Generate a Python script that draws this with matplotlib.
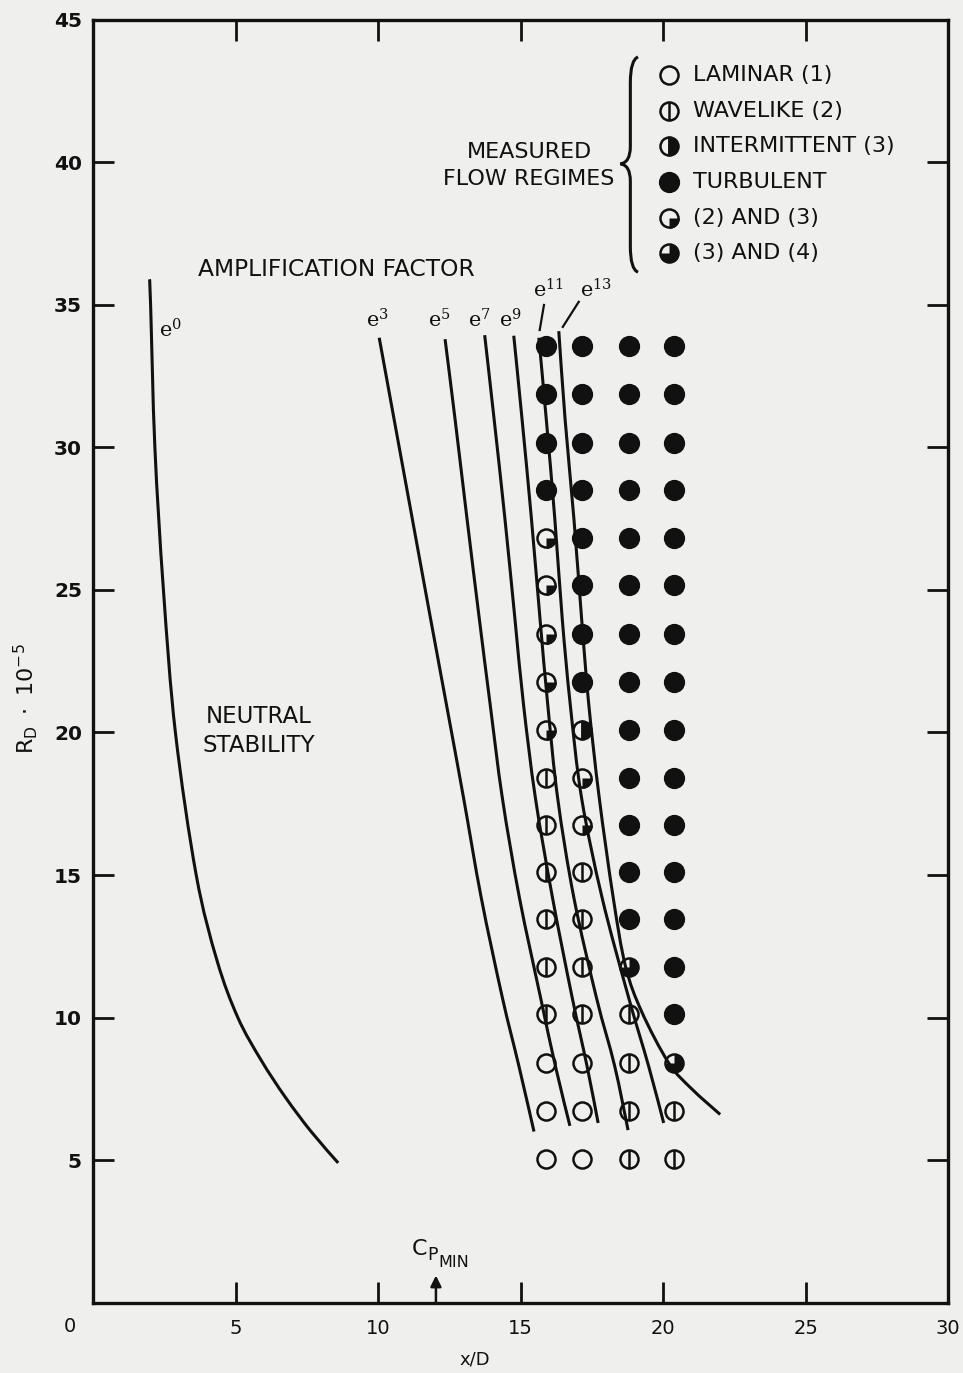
import matplotlib
matplotlib.use("Agg")
import matplotlib.pyplot as plt
from matplotlib.path import Path
from matplotlib.patches import PathPatch

# ---------------------------------------------------------------------------
# Amplification-factor curves (x/D, R_D * 1e-5)
# ---------------------------------------------------------------------------
e0_x = [1.98, 2.02, 2.17, 2.47, 2.89, 3.62, 4.35, 5.08, 5.90, 6.75, 7.65, 8.60]
e0_y = [35.9, 35.0, 30.0, 25.0, 20.0, 15.0, 12.0, 10.0, 8.5, 7.2, 6.0, 4.9]

e3_x = [10.04, 10.56, 11.20, 11.84, 12.45, 13.00, 13.62, 14.36, 14.94, 15.47]
e3_y = [33.85, 31.0, 27.5, 24.0, 20.7, 17.7, 14.2, 10.7, 8.3, 6.0]

e5_x = [12.35, 12.70, 13.12, 13.55, 13.93, 14.36, 14.96, 15.70, 16.22, 16.73]
e5_y = [33.8, 31.0, 27.5, 24.0, 21.0, 17.7, 14.2, 10.7, 8.3, 6.2]

e7_x = [13.74, 14.07, 14.45, 14.80, 15.10, 15.52, 16.12, 16.81, 17.33, 17.72]
e7_y = [33.94, 31.0, 27.5, 24.0, 21.0, 17.7, 14.2, 10.7, 8.3, 6.3]

e9_x = [14.76, 15.05, 15.38, 15.68, 15.95, 16.30, 16.87, 17.66, 18.30, 18.77]
e9_y = [33.92, 31.0, 27.5, 24.0, 21.0, 17.7, 14.2, 10.7, 8.3, 6.05]

e11_x = [15.64, 15.90, 16.20, 16.46, 16.74, 17.14, 17.86, 18.79, 19.49, 20.02]
e11_y = [33.85, 31.0, 27.5, 24.0, 21.0, 17.7, 14.2, 10.7, 8.3, 6.3]

e13_x = [16.34, 16.56, 16.87, 17.14, 17.39, 17.76, 18.25, 18.68, 19.25, 20.20, 21.00, 22.0]
e13_y = [34.08, 31.0, 27.5, 24.0, 21.0, 17.7, 14.2, 11.8, 10.2, 8.4, 7.5, 6.6]

curve_labels = ["0", "3", "5", "7", "9", "11", "13"]
label_x = [2.32, 9.57, 11.76, 13.17, 14.25, 15.45, 17.08]
label_y = [33.85, 34.2, 34.2, 34.2, 34.2, 35.25, 35.25]

# ---------------------------------------------------------------------------
# Measured flow regimes on a grid of stations
#   L laminar, W wavelike, I intermittent, T turbulent,
#   A (2) and (3), B (3) and (4)
# ---------------------------------------------------------------------------
station_x = [15.9, 17.15, 18.8, 20.37]
reynolds = [33.57, 31.86, 30.16, 28.50, 26.84, 25.17, 23.47, 21.78, 20.08,
            18.42, 16.77, 15.11, 13.45, 11.78, 10.11, 8.41, 6.73, 5.02]
regime_col1 = list("TTTTAAAAAWWWWWWLLL")
regime_col2 = list("TTTTTTTTIAAWWWWLLL")
regime_col3 = list("TTTTTTTTTTTTTBWWWW")
regime_col4 = list("TTTTTTTTTTTTTTTBWW")

legend_codes = ["L", "W", "I", "T", "A", "B"]
legend_texts = ["LAMINAR (1)", "WAVELIKE (2)", "INTERMITTENT (3)", "TURBULENT",
                "(2) AND (3)", "(3) AND (4)"]

x_ticks = [0, 5, 10, 15, 20, 25, 30]
y_ticks = [5, 10, 15, 20, 25, 30, 35, 40, 45]

# ---------------------------------------------------------------------------
PAPER = "#efefed"
INK = "#111111"
LW = 2.2
MS = 13
MEW = 1.8

plt.rcParams["font.family"] = ["DejaVu Sans"]
plt.rcParams["mathtext.fontset"] = "dejavusans"

fig = plt.figure(figsize=(9.63, 13.73), dpi=100, facecolor=PAPER)
ax = fig.add_axes([0.0966, 0.0513, 0.888, 0.9342], facecolor=PAPER)
ax.set_xlim(0, 30)
ax.set_ylim(0, 45)

for s in ax.spines.values():
    s.set_linewidth(2.4)
    s.set_color(INK)

ax.tick_params(direction="in", length=15, width=2.0, color=INK,
               top=True, right=True, labeltop=False, labelright=False)
ax.set_xticks(x_ticks)
ax.set_xticklabels([""] + [str(t) for t in x_ticks[1:]],
                   fontsize=14, color=INK)
ax.set_yticks(y_ticks)
ax.set_yticklabels([str(t) for t in y_ticks], fontsize=14.5,
                   fontweight="bold", color=INK)
ax.tick_params(axis="x", pad=12)
ax.tick_params(axis="y", pad=8)
ax.text(-0.8, -0.84, "0", fontsize=14, color=INK, ha="center", va="center")

ax.text(13.4, -2.0, "x/D", fontsize=13, color=INK, ha="center", va="center")
ax.text(-2.35, 21.2, r"$\mathregular{R_D\ \cdot\ 10^{-5}}$", fontsize=16,
        color=INK, rotation=90, ha="center", va="center")


def smooth_path(xs, ys):
    """Cubic Bezier path passing through every given point (Catmull-Rom)."""
    pts = list(zip(xs, ys))
    n = len(pts)
    verts = [pts[0]]
    codes = [Path.MOVETO]
    for i in range(n - 1):
        p0 = pts[max(i - 1, 0)]
        p1 = pts[i]
        p2 = pts[i + 1]
        p3 = pts[min(i + 2, n - 1)]
        c1 = (p1[0] + (p2[0] - p0[0]) / 6.0, p1[1] + (p2[1] - p0[1]) / 6.0)
        c2 = (p2[0] - (p3[0] - p1[0]) / 6.0, p2[1] - (p3[1] - p1[1]) / 6.0)
        verts += [c1, c2, p2]
        codes += [Path.CURVE4] * 3
    return Path(verts, codes)


# curves
for cx, cy in [(e0_x, e0_y), (e3_x, e3_y), (e5_x, e5_y), (e7_x, e7_y),
               (e9_x, e9_y), (e11_x, e11_y), (e13_x, e13_y)]:
    ax.add_patch(PathPatch(smooth_path(cx, cy), fill=False, lw=LW,
                           edgecolor=INK, capstyle="butt", zorder=3))

for lab, lx, ly in zip(curve_labels, label_x, label_y):
    ax.text(lx, ly, r"$\mathregular{e^{%s}}$" % lab, fontsize=15,
            color=INK, ha="left", va="baseline", family="DejaVu Serif")

# leader lines for e11 / e13
ax.plot([15.82, 15.67], [35.0, 34.12], color=INK, lw=1.6)
ax.plot([17.04, 16.48], [35.11, 34.23], color=INK, lw=1.6)

QUARTER = Path.wedge(270, 360)
THREE_QUARTER = Path.wedge(180, 450)


def draw_regime(xs, ys, code, z=5):
    if not xs:
        return
    if code == "T":
        ax.plot(xs, ys, "o", ms=MS + 0.5, mfc=INK, mec=INK, mew=MEW, ls="none", zorder=z)
        return
    if code == "I":
        ax.plot(xs, ys, "o", ms=MS, mfc=INK, mfcalt="none", fillstyle="right",
                mec=INK, mew=MEW, ls="none", zorder=z)
        return
    ax.plot(xs, ys, "o", ms=MS, mfc="none", mec=INK, mew=MEW, ls="none", zorder=z)
    if code == "W":
        ax.plot(xs, ys, "|", ms=MS, mec=INK, mew=MEW, ls="none", zorder=z)
    elif code == "A":
        ax.plot(xs, ys, marker=QUARTER, ms=MS + 2, mfc=INK, mec="none", ls="none", zorder=z)
    elif code == "B":
        ax.plot(xs, ys, marker=THREE_QUARTER, ms=MS + 1, mfc=INK, mec="none", ls="none", zorder=z)


for cx, col in zip(station_x, [regime_col1, regime_col2, regime_col3, regime_col4]):
    for code in "LWITAB":
        ys = [y for y, c in zip(reynolds, col) if c == code]
        draw_regime([cx] * len(ys), ys, code)

# regime key
key_y = [43.05, 41.79, 40.56, 39.30, 38.04, 36.81]
for code, txt, ky in zip(legend_codes, legend_texts, key_y):
    draw_regime([20.19], [ky], code)
    ax.text(21.05, ky, txt, fontsize=16, color=INK, ha="left", va="center")

ax.text(15.3, 39.88, "MEASURED\nFLOW REGIMES", fontsize=16, color=INK,
        ha="center", va="center", linespacing=1.45)

# curly brace grouping the key
xr, xm, xt = 19.12, 18.85, 18.5
yt, ymid, yb = 43.7, 39.95, 36.15
brace = Path(
    [(xr, yt), (xm, yt - 0.1), (xm, yt - 0.9),
     (xm, ymid + 0.6),
     (xm, ymid + 0.05), (xt, ymid),
     (xm, ymid - 0.05), (xm, ymid - 0.6),
     (xm, yb + 0.9),
     (xm, yb + 0.1), (xr, yb)],
    [Path.MOVETO, Path.CURVE3, Path.CURVE3,
     Path.LINETO,
     Path.CURVE3, Path.CURVE3,
     Path.CURVE3, Path.CURVE3,
     Path.LINETO,
     Path.CURVE3, Path.CURVE3])
ax.add_patch(PathPatch(brace, fill=False, lw=2.2, edgecolor=INK))

ax.text(3.7, 36.25, "AMPLIFICATION FACTOR", fontsize=16.8, color=INK,
        ha="left", va="center")
ax.text(5.8, 20.05, "NEUTRAL\nSTABILITY", fontsize=16.5, color=INK,
        ha="center", va="center", linespacing=1.3)

# minimum pressure coefficient station
ax.annotate("", xy=(12.03, 0.95), xytext=(12.03, 0.0),
            arrowprops=dict(arrowstyle="-|>", color=INK, lw=1.8,
                            mutation_scale=16, shrinkA=0, shrinkB=0))
ax.text(11.18, 1.66, "C", fontsize=16, color=INK, ha="left", va="baseline")
ax.text(11.74, 1.50, "P", fontsize=12.5, color=INK, ha="left", va="baseline")
ax.text(12.12, 1.24, "MIN", fontsize=11.5, color=INK, ha="left", va="baseline")

fig.savefig("out.png", dpi=100, facecolor=PAPER)
